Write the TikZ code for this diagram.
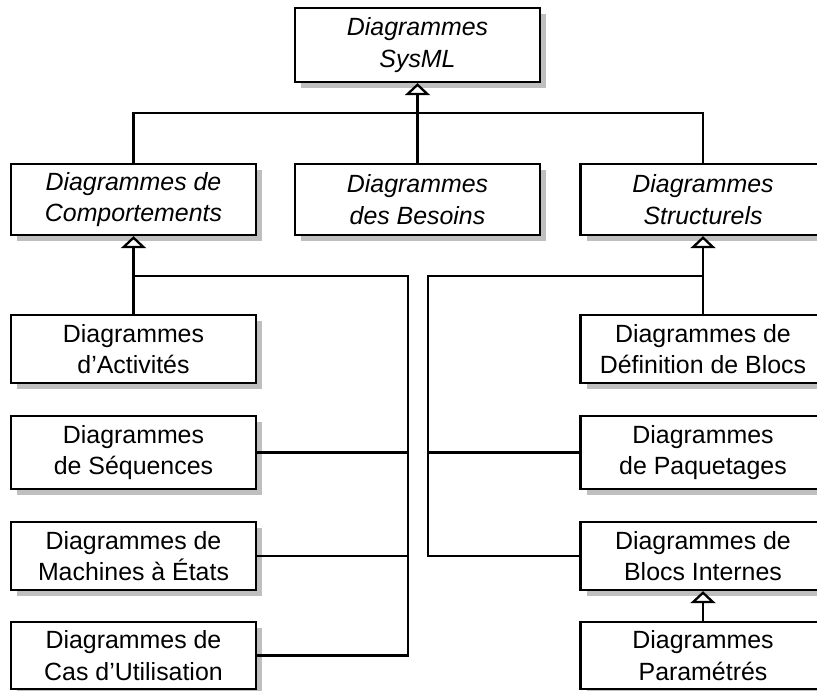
\documentclass[tikz,border=0pt]{standalone}
\usepackage{fontspec}
\setmainfont{Liberation Sans}
\usetikzlibrary{arrows.meta,shadows}

\tikzset{
  diag/.style={draw=black, line width=2.3pt, fill=white, minimum width=245pt,
    align=center, inner sep=0pt,
    font=\fontsize{24.9}{31.7}\selectfont,
    drop shadow={shadow xshift=6pt, shadow yshift=-6pt, fill=black!25, opacity=1}},
  abstractdiag/.style={diag, font=\fontsize{24.9}{31.7}\selectfont\itshape},
  link/.style={line width=2.3pt, line join=miter},
  inherit/.style={link, -{Triangle[open, width=25pt, length=12pt, line width=2.3pt, fill=white]}}
}

\begin{document}
\begin{tikzpicture}[x=1pt, y=-1pt]
  \useasboundingbox (0,0) rectangle (817,691);
  \clip (0,0) rectangle (817,691);
  \fill[white] (0,0) rectangle (817,691);

  % root
  \node[abstractdiag, minimum height=74pt] (sys) at (417.5,45) {Diagrammes\\SysML};

  % second level
  \node[abstractdiag, minimum height=71pt] (beh) at (133.5,199.5) {Diagrammes de\\Comportements};
  \node[abstractdiag, minimum height=71pt] (req) at (417.5,199.5) {Diagrammes\\des Besoins};
  \node[abstractdiag, minimum height=71pt] (str) at (703,199.5) {Diagrammes\\Structurels};

  % behaviour diagrams
  \node[diag, minimum height=68pt] (act) at (133.5,349) {Diagrammes\\d’Activités};
  \node[diag, minimum height=73pt] (seq) at (133.5,452.5) {Diagrammes\\de Séquences};
  \node[diag, minimum height=68pt] (stm) at (133.5,556) {Diagrammes de\\Machines à États};
  \node[diag, minimum height=67pt] (uc)  at (133.5,655.5) {Diagrammes de\\Cas d’Utilisation};

  % structure diagrams
  \node[diag, minimum height=68pt] (bdd) at (703,349) {Diagrammes de\\Définition de Blocs};
  \node[diag, minimum height=73pt] (pkg) at (703,452.5) {Diagrammes\\de Paquetages};
  \node[diag, minimum height=68pt] (ibd) at (703,556) {Diagrammes de\\Blocs Internes};
  \node[diag, minimum height=67pt] (par) at (703,655.5) {Diagrammes\\Paramétrés};

  % junction points
  \coordinate (top) at (417.5,113);
  \coordinate (lbus) at (408,276);
  \coordinate (rbus) at (428,276);

  % root generalisation
  \draw[inherit] (req.north) -- (sys.south);
  \draw[link] (beh.north) |- (top) -| (str.north);

  % behaviour generalisation
  \draw[inherit] (act.north) -- (beh.south);
  \draw[link] (act.north |- lbus) -- (lbus) |- (uc.east);
  \draw[link] (seq.east) -- (seq.east -| lbus);
  \draw[link] (stm.east) -- (stm.east -| lbus);

  % structure generalisation
  \draw[inherit] (bdd.north) -- (str.south);
  \draw[link] (bdd.north |- rbus) -- (rbus) |- (ibd.west);
  \draw[link] (pkg.west) -- (pkg.west -| rbus);
  \draw[inherit] (par.north) -- (ibd.south);
\end{tikzpicture}
\end{document}
